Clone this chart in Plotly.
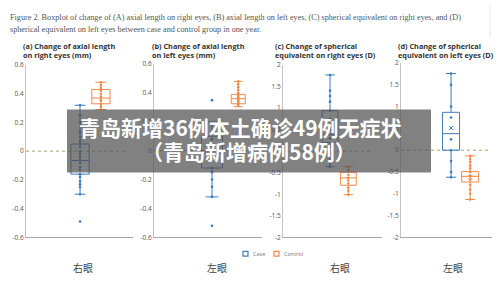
import plotly.graph_objects as go

W, H = 500, 282
def px(x): return x / W
def py(y): return 1 - y / H

# ---------------- data ----------------
caption_lines = [
    "Figure 2. Boxplot of change of (A) axial length on right eyes, (B) axial length on left eyes, (C) spherical equivalent on right eyes, and (D)",
    "spherical equivalent on left eyes between case and control group in one year.",
]
panel_titles = [
    "(a) Change of axial length<br>on right eyes (mm)",
    "(b) Change of axial length<br>on left eyes (mm)",
    "(c) Change of spherical<br>equivalent on right eyes (D)",
    "(d) Change of spherical<br>equivalent on left eyes (D)",
]
eye_labels = ["右眼", "左眼", "右眼", "左眼"]
groups = ["Case", "Control"]
banner_lines = ["青岛新增36例本土确诊49例无症状", "（青岛新增病例58例）"]

ticks_al = [-0.6, -0.4, -0.2, 0, 0.2, 0.4, 0.6]
ticktext_al = ["-0.6", "-0.4", "-0.2", "0", "0.2", "0.4", "0.6"]
ticks_se = [-2, -1.5, -1, -0.5, 0, 0.5, 1, 1.5, 2]
ticktext_se = ["-2", "-1.5", "-1", "-0.5", "0", "0.5", "1", "1.5", "2"]

# box statistics: [q1, median, q3, lower whisker, upper whisker]
a_case_stats = [-0.16, -0.065, 0.05, -0.30, 0.32]
a_ctrl_stats = [0.33, 0.37, 0.43, 0.29, 0.48]
b_case_stats = [-0.12, -0.02, 0.10, -0.32, 0.20]
b_ctrl_stats = [0.325, 0.36, 0.39, 0.305, 0.48]
c_case_stats = [0.20, 0.38, 0.94, -0.36, 1.77]
c_ctrl_stats = [-0.79, -0.62, -0.49, -1.01, -0.36]
d_case_stats = [0.0, 0.38, 0.87, -0.62, 1.76]
d_ctrl_stats = [-0.73, -0.60, -0.49, -1.13, -0.13]

# individual points
a_case_pts = [0.32, 0.25, 0.20, 0.13, 0.10, 0.07, 0.05, 0.03, 0.0, -0.02, -0.04, -0.06,
              -0.08, -0.11, -0.13, -0.16, -0.18, -0.21, -0.23, -0.25, -0.30, -0.49]
a_ctrl_pts = [0.48, 0.46, 0.44, 0.42, 0.40, 0.38, 0.36, 0.35, 0.33, 0.31, 0.29]
b_case_pts = [0.35, 0.18, 0.12, 0.08, 0.03, -0.04, -0.12, -0.15, -0.20, -0.25, -0.32, -0.52]
b_ctrl_pts = [0.48, 0.46, 0.44, 0.42, 0.40, 0.38, 0.37, 0.36, 0.35, 0.34, 0.33, 0.32, 0.31]
c_case_pts = [1.77, 1.40, 1.28, 1.15, 0.94, 0.75, 0.50, 0.30, 0.10, -0.22, -0.30, -0.36]
c_ctrl_pts = [-0.36, -0.45, -0.55, -0.62, -0.68, -0.75, -0.85, -0.92, -1.01]
d_case_pts = [1.76, 1.50, 1.00, 0.75, 0.25, 0.0, -0.25, -0.50, -0.62]
d_ctrl_pts = [-0.13, -0.20, -0.27, -0.35, -0.42, -0.50, -0.58, -0.68, -0.80, -0.90, -1.00, -1.13]
d_means = [0.51, -0.62]

# ---------------- layout ----------------
BLUE = "#3a7cbd"
ORANGE = "#ef8a4a"
colors = [BLUE, ORANGE]

panels = [
    dict(x0=26, x1=133, ytop=62, ybot=240, rng=[-0.6, 0.6], tv=ticks_al, tt=ticktext_al,
         stats=[a_case_stats, a_ctrl_stats], pts=[a_case_pts, a_ctrl_pts], pos=[0.505, 0.70],
         width=[0.17, 0.17], tx=21, lab=83, zl=0.94, means=None),
    dict(x0=154, x1=262, ytop=61, ybot=240, rng=[-0.6, 0.6], tv=ticks_al, tt=ticktext_al,
         stats=[b_case_stats, b_ctrl_stats], pts=[b_case_pts, b_ctrl_pts], pos=[0.537, 0.78],
         width=[0.195, 0.13], tx=150, lab=217, zl=0.94, means=None),
    dict(x0=283, x1=382, ytop=62, ybot=240, rng=[-2, 2], tv=ticks_se, tt=ticktext_se,
         stats=[c_case_stats, c_ctrl_stats], pts=[c_case_pts, c_ctrl_pts], pos=[0.475, 0.66],
         width=[0.16, 0.16], tx=273, lab=340, zl=0.91, means=None),
    dict(x0=401, x1=492, ytop=60, ybot=240, rng=[-2, 2], tv=ticks_se, tt=ticktext_se,
         stats=[d_case_stats, d_ctrl_stats], pts=[d_case_pts, d_ctrl_pts], pos=[0.55, 0.76],
         width=[0.187, 0.187], tx=396, lab=453, zl=0.98, means=d_means),
]

fig = go.Figure()
layout = dict(width=W, height=H, margin=dict(l=0, r=0, t=0, b=0),
              paper_bgcolor="white", plot_bgcolor="white", showlegend=False)
shapes = []
annotations = []

for i, p in enumerate(panels):
    n = "" if i == 0 else str(i + 1)
    xa, ya = "x" + n, "y" + n
    layout["xaxis" + n] = dict(domain=[px(p["x0"]), px(p["x1"])], range=[0, 1], anchor=ya,
                               showline=True, linecolor="#a8a8a8", linewidth=1,
                               showticklabels=False, ticks="", showgrid=False, zeroline=False,
                               fixedrange=True)
    layout["yaxis" + n] = dict(domain=[py(p["ybot"]), py(p["ytop"])], range=p["rng"], anchor=xa,
                               showline=True, linecolor="#c4c4c4", linewidth=1,
                               tickvals=p["tv"], ticktext=p["tt"], ticks="",
                               tickfont=dict(family="Open Sans", size=6.5, color="#555"),
                               showgrid=False, zeroline=False, fixedrange=True)
    # zero dotted line
    shapes.append(dict(type="line", xref=xa, yref=ya,
                       x0=0, x1=p["zl"], y0=0, y1=0,
                       line=dict(color="#9aa86a", width=1, dash="dot"), layer="below"))
    for g in range(2):
        q1, med, q3, lo, hi = p["stats"][g]
        c = colors[g]
        fig.add_trace(go.Box(x=[p["pos"][g]], q1=[q1], median=[med], q3=[q3],
                             lowerfence=[lo], upperfence=[hi], width=p["width"][g],
                             whiskerwidth=0.6, line=dict(color=c, width=1),
                             fillcolor="rgba(255,255,255,0)", boxpoints=False,
                             xaxis=xa, yaxis=ya, name=groups[g], showlegend=False))
        fig.add_trace(go.Scatter(x=[p["pos"][g]] * len(p["pts"][g]), y=p["pts"][g],
                                 mode="markers", marker=dict(size=2.6, color=c),
                                 xaxis=xa, yaxis=ya, showlegend=False, hoverinfo="y"))
        if p["means"] is not None:
            fig.add_trace(go.Scatter(x=[p["pos"][g]], y=[p["means"][g]], mode="markers",
                                     marker=dict(symbol="x-thin", size=4,
                                                 line=dict(color=c, width=1)),
                                     xaxis=xa, yaxis=ya, showlegend=False))
    # panel title
    annotations.append(dict(text="<b>" + panel_titles[i] + "</b>", x=px(p["tx"]), y=py(35),
                            xref="paper", yref="paper", xanchor="left", yanchor="top",
                            align="left", showarrow=False,
                            font=dict(family="Open Sans", size=7.3, color="#333")))
    # eye label
    annotations.append(dict(text=eye_labels[i], x=px(p["lab"]), y=py(271), xref="paper",
                            yref="paper", xanchor="center", yanchor="middle", showarrow=False,
                            font=dict(family="Noto Sans CJK SC", size=10, color="#444")))

# caption
for k, line in enumerate(caption_lines):
    annotations.append(dict(text=line, x=px(8), y=py([12.7, 25][k]), xref="paper", yref="paper",
                            xanchor="left", yanchor="middle", showarrow=False,
                            font=dict(family="Liberation Serif", size=8.2, color="#555")))
shapes.append(dict(type="line", xref="paper", yref="paper", x0=px(490), x1=px(490),
                   y0=py(0), y1=py(33), line=dict(color="#e6e6e6", width=1)))

# legend
leg_x = [243, 274]
leg_tx = [251, 282]
for g in range(2):
    shapes.append(dict(type="rect", xref="paper", yref="paper",
                       x0=px(leg_x[g]), x1=px(leg_x[g] + 5), y0=py(259.5), y1=py(254.5),
                       line=dict(color=colors[g], width=1.2), fillcolor="white"))
    annotations.append(dict(text=groups[g], x=px(leg_tx[g]), y=py(257), xref="paper",
                            yref="paper", xanchor="left", yanchor="middle", showarrow=False,
                            font=dict(family="Open Sans", size=5.5, color="#777")))

# banner overlay
shapes.append(dict(type="rect", xref="paper", yref="paper", x0=px(67), x1=px(431),
                   y0=py(173), y1=py(108), fillcolor="rgba(80,80,80,0.72)",
                   line=dict(width=0), layer="above"))
banner_x = [240, 249]
banner_y = [126, 151]
for k, line in enumerate(banner_lines):
    annotations.append(dict(text="<b>" + line + "</b>", x=px(banner_x[k]), y=py(banner_y[k]),
                            xref="paper", yref="paper", xanchor="center", yanchor="middle",
                            showarrow=False,
                            font=dict(family="Noto Sans CJK SC", size=21, color="white")))

layout["shapes"] = shapes
layout["annotations"] = annotations
fig.update_layout(**layout)
fig.write_html("out.html")
